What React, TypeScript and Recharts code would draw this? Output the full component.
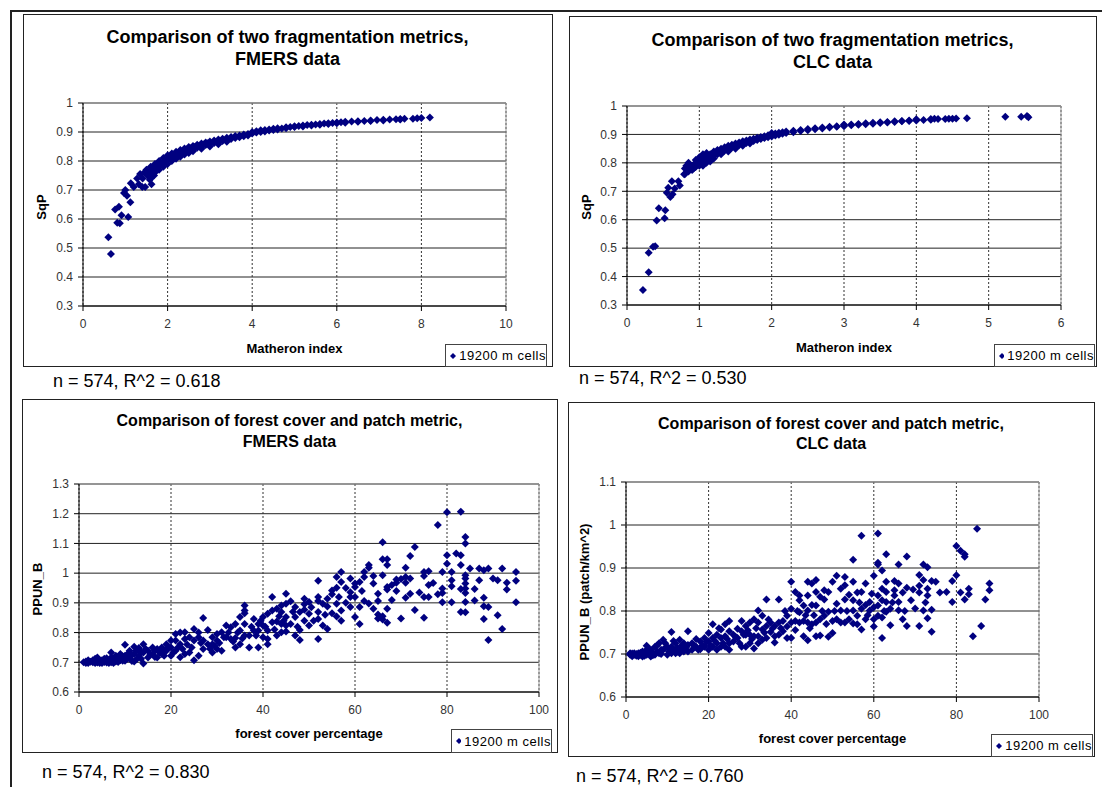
import React from 'react';
import { ScatterChart, Scatter, XAxis, YAxis, CartesianGrid, ReferenceLine, Legend } from 'recharts';

const NAVY = '#000080';
const FONT = '"Liberation Sans", Arial, Helvetica, sans-serif';
const SERIES_NAME = '19200 m cells';

// axis ticks
const matheronTicksFmers = [0, 2, 4, 6, 8, 10];
const matheronTicksClc = [0, 1, 2, 3, 4, 5, 6];
const sqpTicks = [0.3, 0.4, 0.5, 0.6, 0.7, 0.8, 0.9, 1];
const coverTicks = [0, 20, 40, 60, 80, 100];
const ppunFmersTicks = [0.6, 0.7, 0.8, 0.9, 1, 1.1, 1.2, 1.3];
const ppunClcTicks = [0.6, 0.7, 0.8, 0.9, 1, 1.1];

// Matheron index vs SqP, FMERS
const fmersMatheron: [number, number][] = [
  [0.6, 0.537], [0.66, 0.479], [0.76, 0.633], [0.85, 0.642], [0.81, 0.587], [0.87, 0.585], [0.91, 0.613],
  [0.97, 0.69], [1.0, 0.7], [1.04, 0.68], [1.07, 0.607], [1.12, 0.658], [1.13, 0.723], [1.2, 0.71],
  [1.28, 0.74], [1.32, 0.72], [1.4, 0.71], [1.41, 0.74], [1.47, 0.71], [1.52, 0.75], [1.58, 0.735],
  [1.62, 0.72], [1.66, 0.77], [1.68, 0.75], [1.35, 0.755], [1.45, 0.76],
  [1.5, 0.76], [1.5, 0.77], [1.6, 0.78], [1.6, 0.76], [1.6, 0.74], [1.7, 0.79], [1.7, 0.775], [1.7, 0.76],
  [1.75, 0.78], [1.85, 0.79], [1.95, 0.8],
  [1.8, 0.8], [1.8, 0.785], [1.8, 0.77], [1.9, 0.81], [1.9, 0.795], [1.9, 0.78],
  [2.0, 0.82], [2.0, 0.805], [2.0, 0.79], [2.1, 0.826], [2.1, 0.812], [2.1, 0.8],
  [2.05, 0.812], [2.15, 0.82], [2.25, 0.826], [2.35, 0.834], [2.45, 0.84], [2.55, 0.844], [2.65, 0.849],
  [2.75, 0.853], [2.85, 0.857], [2.95, 0.861],
  [2.2, 0.832], [2.2, 0.82], [2.2, 0.808], [2.3, 0.838], [2.3, 0.826], [2.3, 0.815],
  [2.4, 0.843], [2.4, 0.832], [2.4, 0.822], [2.5, 0.848], [2.5, 0.837], [2.5, 0.828], [2.6, 0.852], [2.6, 0.842], [2.6, 0.834],
  [2.7, 0.856], [2.7, 0.846], [2.8, 0.86], [2.8, 0.85], [2.8, 0.842], [2.9, 0.864], [2.9, 0.855], [3.0, 0.867], [3.0, 0.858], [3.0, 0.85],
  [3.1, 0.871], [3.1, 0.862], [3.2, 0.874], [3.2, 0.866], [3.2, 0.858], [3.3, 0.877], [3.3, 0.869], [3.4, 0.88], [3.4, 0.872], [3.4, 0.866],
  [3.5, 0.883], [3.5, 0.876], [3.6, 0.886], [3.6, 0.879], [3.7, 0.888], [3.7, 0.882], [3.8, 0.891], [3.8, 0.885],
  [3.9, 0.893], [3.9, 0.888], [4.0, 0.895], [4.0, 0.9], [4.1, 0.898], [4.1, 0.903], [4.2, 0.9], [4.2, 0.906],
  [4.3, 0.902], [4.3, 0.907], [4.4, 0.905], [4.4, 0.909], [4.5, 0.907], [4.5, 0.911], [4.6, 0.909], [4.6, 0.913],
  [4.7, 0.912], [4.8, 0.913], [4.8, 0.916], [4.9, 0.917], [5.0, 0.917], [5.0, 0.92], [5.1, 0.921],
  [5.2, 0.922], [5.2, 0.919], [5.3, 0.924], [5.4, 0.925], [5.4, 0.922], [5.5, 0.926], [5.6, 0.928], [5.6, 0.925],
  [5.7, 0.929], [5.8, 0.93], [5.8, 0.928], [5.9, 0.931], [6.0, 0.933], [6.0, 0.93], [6.1, 0.934],
  [6.2, 0.935], [6.2, 0.932], [6.35, 0.936], [6.5, 0.937], [6.5, 0.935], [6.65, 0.938], [6.8, 0.94], [6.8, 0.938],
  [6.95, 0.941], [7.1, 0.942], [7.1, 0.94], [7.25, 0.943], [7.4, 0.944], [7.5, 0.945], [7.5, 0.943],
  [7.6, 0.946], [7.8, 0.946], [7.9, 0.947], [8.0, 0.948], [8.2, 0.95],
];

// Matheron index vs SqP, CLC
const clcMatheron: [number, number][] = [
  [0.22, 0.353], [0.3, 0.415], [0.3, 0.484], [0.36, 0.505], [0.39, 0.507], [0.41, 0.597], [0.44, 0.64],
  [0.52, 0.605], [0.53, 0.633], [0.55, 0.695], [0.57, 0.712], [0.6, 0.68], [0.62, 0.735], [0.63, 0.69],
  [0.66, 0.71], [0.71, 0.735], [0.73, 0.72], [0.79, 0.76], [0.82, 0.79], [0.86, 0.78], [0.92, 0.78],
  [0.8, 0.76], [0.8, 0.78], [0.85, 0.77], [0.85, 0.79], [0.85, 0.8], [0.9, 0.775], [0.9, 0.79],
  [0.95, 0.785], [0.95, 0.8], [0.95, 0.81], [1.0, 0.79], [1.0, 0.8], [1.0, 0.805], [1.0, 0.82], [1.05, 0.79],
  [1.05, 0.8], [1.05, 0.815], [1.05, 0.83], [1.1, 0.8], [1.15, 0.805], [1.2, 0.815], [1.3, 0.83], [1.4, 0.84],
  [1.5, 0.85], [1.6, 0.86], [1.7, 0.868],
  [1.1, 0.81], [1.1, 0.825], [1.1, 0.835], [1.15, 0.818], [1.15, 0.83], [1.2, 0.825], [1.2, 0.84],
  [1.25, 0.83], [1.25, 0.845], [1.3, 0.837], [1.3, 0.85], [1.35, 0.843], [1.35, 0.855], [1.4, 0.848], [1.4, 0.86],
  [1.45, 0.853], [1.45, 0.864], [1.5, 0.858], [1.5, 0.868], [1.55, 0.862], [1.55, 0.872], [1.6, 0.866], [1.6, 0.876],
  [1.65, 0.87], [1.65, 0.879], [1.7, 0.874], [1.7, 0.882], [1.75, 0.877], [1.75, 0.885], [1.8, 0.88], [1.8, 0.888],
  [1.85, 0.884], [1.85, 0.891], [1.9, 0.887], [1.9, 0.894], [1.95, 0.89], [1.95, 0.897],
  [2.0, 0.893], [2.0, 0.9], [2.0, 0.905], [2.05, 0.896], [2.05, 0.903], [2.1, 0.899], [2.1, 0.906],
  [2.15, 0.902], [2.15, 0.908], [2.2, 0.905], [2.2, 0.91], [2.3, 0.908], [2.3, 0.913], [2.4, 0.912], [2.4, 0.916],
  [2.5, 0.915], [2.5, 0.919], [2.6, 0.918], [2.6, 0.922], [2.7, 0.921], [2.7, 0.924], [2.8, 0.924], [2.8, 0.927],
  [2.9, 0.927], [2.9, 0.929], [3.0, 0.929], [3.0, 0.932], [3.0, 0.935], [3.1, 0.932], [3.1, 0.935],
  [3.2, 0.934], [3.2, 0.937], [3.3, 0.936], [3.3, 0.939], [3.4, 0.938], [3.4, 0.941], [3.5, 0.94], [3.5, 0.943],
  [3.6, 0.942], [3.6, 0.944], [3.7, 0.944], [3.7, 0.946], [3.8, 0.946], [3.8, 0.947], [3.9, 0.947], [3.9, 0.949],
  [4.0, 0.949], [4.0, 0.951], [4.0, 0.953], [4.1, 0.951], [4.2, 0.952], [4.2, 0.954], [4.25, 0.955], [4.3, 0.954],
  [4.4, 0.954], [4.45, 0.955], [4.5, 0.955], [4.55, 0.956], [4.7, 0.957], [5.23, 0.962], [5.45, 0.962],
  [5.53, 0.965], [5.55, 0.96],
];

// forest cover % vs PPUN_B, FMERS
const fmersCover: [number, number][] = [
  [1, 0.7], [1.5, 0.703], [2, 0.698], [2, 0.707], [3, 0.7], [3, 0.707], [3.5, 0.712], [4, 0.699], [4, 0.716],
  [4.5, 0.705], [5, 0.698], [5, 0.707], [5.5, 0.712], [6, 0.699], [6, 0.714], [6.5, 0.706], [7, 0.7], [7, 0.716],
  [7, 0.733], [7.5, 0.71], [8, 0.703], [8, 0.722], [8.5, 0.714], [9, 0.707], [9, 0.728], [9.5, 0.72], [10, 0.705],
  [10, 0.722], [10, 0.759], [10.5, 0.713], [11, 0.716], [11, 0.739], [11.5, 0.725], [12, 0.703], [12, 0.728],
  [12, 0.752], [12.5, 0.74], [13, 0.722], [13, 0.748], [13.5, 0.735], [14, 0.696], [14, 0.733], [14, 0.761],
  [14.5, 0.745], [15, 0.716], [15, 0.739], [16, 0.728], [16, 0.75], [16.5, 0.74], [17, 0.716], [17, 0.745],
  [18, 0.728], [18, 0.75], [18.5, 0.74], [19, 0.739], [19, 0.761], [20, 0.722], [20, 0.75], [20, 0.773],
  [21, 0.739], [21, 0.773], [21, 0.795], [22, 0.717], [22, 0.761], [22, 0.8], [23, 0.728], [23, 0.778],
  [23, 0.801], [24, 0.733], [24, 0.784], [25, 0.707], [25, 0.773], [25, 0.812], [26, 0.722], [26, 0.784],
  [26, 0.8], [27, 0.745], [27, 0.773], [27, 0.849], [28, 0.761], [28, 0.809], [29, 0.733], [29, 0.761],
  [29, 0.784], [30, 0.745], [30, 0.773], [30, 0.795], [31, 0.739], [31, 0.801], [32, 0.784], [32, 0.824],
  [33, 0.778], [33, 0.818], [34, 0.75], [34, 0.782], [34, 0.829], [35, 0.761], [35, 0.807], [35, 0.852],
  [36, 0.79], [36, 0.829], [36, 0.865], [36, 0.874], [36, 0.891], [37, 0.75], [37, 0.79], [38, 0.807],
  [38, 0.846], [39, 0.75], [39, 0.807], [39, 0.829], [40, 0.784], [40, 0.824], [40, 0.852], [41, 0.761],
  [41, 0.778], [41, 0.807], [41, 0.863], [42, 0.835], [42, 0.874], [42, 0.92], [43, 0.79], [43, 0.837],
  [43, 0.88], [44, 0.801], [44, 0.829], [44, 0.869], [44, 0.891], [45, 0.804], [45, 0.824], [45, 0.852],
  [45, 0.897], [45, 0.931], [46, 0.829], [46, 0.905], [47, 0.79], [47, 0.852], [47, 0.886], [48, 0.775],
  [48, 0.809], [48, 0.869], [49, 0.84], [49, 0.877], [49, 0.895], [49, 0.914], [50, 0.824], [50, 0.863],
  [50, 0.903], [52, 0.778], [52, 0.846], [52, 0.869], [52, 0.906], [52, 0.92], [52, 0.974], [53, 0.824],
  [53, 0.897], [54, 0.812], [54, 0.888], [54, 0.914], [55, 0.865], [55, 0.929], [55, 0.942], [56, 0.854],
  [56, 0.897], [56, 0.951], [56, 0.987], [57, 0.84], [57, 0.874], [57, 0.97], [57, 1.004], [59, 0.886],
  [59, 0.92], [59, 0.936], [59, 0.982], [60, 0.852], [60, 0.92], [60, 0.953], [60, 0.965], [61, 0.829],
  [61, 0.886], [61, 0.97], [62, 0.906], [62, 0.987], [62, 1.004], [63, 0.898], [63, 1.018], [63, 1.027],
  [64, 0.88], [64, 0.965], [65, 0.847], [65, 0.861], [65, 0.906], [65, 0.931], [66, 0.844], [66, 0.855],
  [66, 0.993], [66, 1.047], [66, 1.104], [67, 0.833], [67, 0.88], [67, 0.945], [67, 0.953], [67, 1.027],
  [67, 1.047], [68, 0.91], [69, 0.94], [69, 0.968], [69, 0.979], [70, 0.847], [71, 0.917], [71, 0.968],
  [71, 0.987], [71, 1.018], [72, 0.931], [72, 0.982], [72, 1.058], [73, 0.876], [73, 1.088], [74, 0.935],
  [75, 0.85], [75, 0.92], [75, 0.99], [75, 1.004], [76, 0.92], [76, 1.006], [77, 0.967], [78, 0.929],
  [78, 1.162], [79, 0.902], [79, 0.933], [79, 0.948], [79, 1.004], [80, 1.032], [80, 1.06], [80, 1.205],
  [81, 0.902], [81, 0.956], [81, 0.976], [81, 1.004], [82, 1.066], [83, 0.869], [83, 0.947], [83, 1.027],
  [83, 1.06], [83, 1.207], [84, 0.868], [84, 0.903], [84, 0.933], [84, 0.948], [84, 0.965], [84, 0.982],
  [84, 0.993], [84, 1.1], [84, 1.122], [85, 1.016], [86, 0.947], [86, 0.908], [87, 0.976], [87, 1.016],
  [88, 0.846], [88, 0.889], [88, 0.917], [88, 1.01], [89, 0.775], [89, 0.886], [89, 1.016], [90, 0.982],
  [91, 0.858], [91, 0.976], [92, 0.812], [92, 1.016], [93, 0.945], [93, 0.968], [95, 0.902], [95, 0.974],
  [95, 1.004],
  [1.5, 0.698], [2.5, 0.702], [3.5, 0.698], [4.5, 0.698], [5.5, 0.701], [6.5, 0.698], [7.5, 0.698], [8.5, 0.701],
  [9.5, 0.705], [10.5, 0.727], [11.5, 0.704], [12.5, 0.71], [13.5, 0.712], [15.5, 0.727], [16.5, 0.718],
  [17.5, 0.733], [18.5, 0.722], [19.5, 0.75], [20.5, 0.733], [21.5, 0.75], [22.5, 0.745], [23.5, 0.76],
  [24.5, 0.75], [26.5, 0.765], [28.5, 0.745], [29.5, 0.755], [30.5, 0.765], [31.5, 0.784], [32.5, 0.8],
  [33.5, 0.77], [34.5, 0.8], [35.5, 0.78], [37.5, 0.82], [38.5, 0.79], [39.5, 0.84], [40.5, 0.82], [42.5, 0.81],
  [43.5, 0.855], [44.5, 0.84], [46.5, 0.87], [47.5, 0.82], [50.5, 0.885], [51, 0.84], [53.5, 0.86], [56.5, 0.92],
  [58, 0.95], [58, 0.9], [61.5, 0.94], [64, 0.99], [68, 0.96], [70, 0.98], [76, 0.96],
];

// forest cover % vs PPUN_B, CLC
const clcCover: [number, number][] = [
  [1, 0.698], [1, 0.702], [1.5, 0.695], [2, 0.698], [2, 0.702], [2.5, 0.7], [3, 0.695], [3, 0.702], [3.5, 0.698],
  [4, 0.694], [4, 0.706], [4.5, 0.7], [5, 0.698], [5, 0.71], [5, 0.719], [5.5, 0.703], [6, 0.694], [6, 0.71],
  [6.5, 0.702], [7, 0.698], [7, 0.717], [7.5, 0.706], [8, 0.702], [8, 0.725], [8.5, 0.71], [9, 0.71], [9, 0.733],
  [9.5, 0.714], [10, 0.698], [10, 0.717], [10.5, 0.706], [11, 0.702], [11, 0.717], [11, 0.751], [11.5, 0.71],
  [12, 0.702], [12, 0.725], [12.5, 0.714], [13, 0.702], [13, 0.713], [13, 0.733], [13.5, 0.72], [14, 0.706],
  [14, 0.725], [15, 0.706], [15, 0.721], [15, 0.753], [16, 0.71], [16, 0.725], [17, 0.717], [17, 0.735],
  [18, 0.711], [18, 0.729], [19, 0.717], [19, 0.737], [20, 0.71], [20, 0.729], [20, 0.749], [21, 0.717],
  [21, 0.737], [21, 0.769], [22, 0.71], [22, 0.725], [22, 0.745], [23, 0.717], [23, 0.737], [23, 0.757],
  [24, 0.717], [24, 0.741], [24, 0.769], [25, 0.71], [25, 0.725], [25, 0.753], [25, 0.777], [26, 0.729],
  [26, 0.745], [27, 0.737], [27, 0.759], [28, 0.717], [28, 0.753], [28, 0.777], [29, 0.717], [29, 0.745],
  [29, 0.765], [30, 0.725], [30, 0.745], [30, 0.773], [31, 0.713], [31, 0.741], [31, 0.781], [32, 0.725],
  [32, 0.741], [32, 0.773], [32, 0.801], [33, 0.733], [33, 0.757], [33, 0.789], [34, 0.737], [34, 0.765],
  [34, 0.827], [35, 0.751], [35, 0.773], [36, 0.727], [36, 0.741], [36, 0.765], [37, 0.745], [37, 0.773],
  [37, 0.827], [38, 0.753], [38, 0.777], [39, 0.737], [39, 0.764], [39, 0.789], [40, 0.737], [40, 0.773],
  [40, 0.805], [40, 0.868], [41, 0.756], [41, 0.777], [41, 0.844], [42, 0.773], [42, 0.797], [42, 0.825],
  [42, 0.836], [43, 0.741], [43, 0.777], [43, 0.813], [44, 0.732], [44, 0.773], [44, 0.801], [44, 0.836],
  [44, 0.868], [45, 0.769], [45, 0.814], [45, 0.864], [46, 0.741], [46, 0.773], [46, 0.813], [46, 0.844],
  [46, 0.872], [47, 0.743], [47, 0.781], [47, 0.833], [48, 0.789], [48, 0.827], [48, 0.848], [49, 0.74],
  [49, 0.798], [49, 0.844], [50, 0.749], [50, 0.777], [50, 0.868], [51, 0.781], [51, 0.817], [51, 0.882],
  [52, 0.773], [52, 0.801], [52, 0.852], [53, 0.773], [53, 0.827], [53, 0.86], [53, 0.879], [54, 0.781],
  [54, 0.838], [55, 0.771], [55, 0.801], [55, 0.825], [55, 0.868], [55, 0.919], [56, 0.769], [56, 0.789],
  [56, 0.843], [57, 0.757], [57, 0.805], [57, 0.844], [57, 0.975], [58, 0.781], [58, 0.814], [58, 0.864],
  [59, 0.801], [59, 0.821], [60, 0.764], [60, 0.781], [60, 0.809], [60, 0.882], [61, 0.789], [61, 0.813],
  [61, 0.836], [61, 0.908], [61, 0.912], [61, 0.98], [62, 0.737], [62, 0.785], [62, 0.825], [62, 0.852],
  [62, 0.894], [63, 0.798], [63, 0.821], [63, 0.844], [63, 0.868], [63, 0.932], [64, 0.767], [64, 0.805],
  [65, 0.836], [65, 0.848], [65, 0.87], [66, 0.802], [66, 0.821], [66, 0.864], [66, 0.908], [67, 0.781],
  [67, 0.843], [68, 0.765], [68, 0.854], [68, 0.927], [69, 0.825], [70, 0.806], [71, 0.765], [71, 0.843],
  [71, 0.859], [71, 0.884], [72, 0.801], [72, 0.872], [72, 0.908], [73, 0.783], [73, 0.836], [73, 0.852],
  [73, 0.902], [74, 0.752], [74, 0.803], [74, 0.87], [75, 0.868], [76, 0.843], [77.6, 0.844], [79, 0.821],
  [79, 0.87], [80, 0.883], [80, 0.951], [81, 0.843], [81, 0.94], [82, 0.827], [82, 0.926], [82, 0.932],
  [83, 0.839], [83, 0.852], [84, 0.741], [85, 0.991], [86, 0.765], [87, 0.827], [88, 0.848], [88, 0.864],
  [1.5, 0.701], [2.5, 0.696], [3.5, 0.703], [4.5, 0.696], [5.5, 0.712], [6.5, 0.697], [7.5, 0.72], [8.5, 0.7],
  [9.5, 0.725], [10.5, 0.712], [11.5, 0.73], [12.5, 0.705], [13.5, 0.708], [14.5, 0.715], [16.5, 0.72],
  [17.5, 0.71], [18.5, 0.72], [19.5, 0.728], [20.5, 0.72], [21.5, 0.73], [22.5, 0.76], [23.5, 0.725],
  [24.5, 0.735], [26.5, 0.74], [27.5, 0.725], [28.5, 0.745], [29.5, 0.755], [30.5, 0.735], [31.5, 0.76],
  [33.5, 0.75], [34.5, 0.78], [35.5, 0.76], [37.5, 0.76], [38.5, 0.8], [41.5, 0.8], [43.5, 0.79], [44.5, 0.76],
  [45.5, 0.79], [47.5, 0.8], [48.5, 0.77], [50.5, 0.8], [53.5, 0.8], [56.5, 0.82], [58.5, 0.79], [59.5, 0.84],
  [62.5, 0.8], [64.5, 0.82], [67.5, 0.8], [69.5, 0.85], [72.5, 0.82],
];

const Diamond = (props: any) => {
  const { cx, cy } = props;
  if (cx == null || cy == null) return null;
  const r = 4;
  return <path d={`M${cx},${cy - r}L${cx + r},${cy}L${cx},${cy + r}L${cx - r},${cy}Z`} fill={NAVY} />;
};

const LegendBox = () => (
  <div style={{ display: 'flex', alignItems: 'center', height: '100%', paddingLeft: 3, fontFamily: FONT, fontSize: 13, letterSpacing: 0.5, color: '#000', whiteSpace: 'nowrap' }}>
    <svg width={8} height={8} style={{ display: 'block' }}>
      <path d="M4,1L7,4L4,7L1,4Z" fill={NAVY} />
    </svg>
    <span style={{ marginLeft: 3 }}>{SERIES_NAME}</span>
  </div>
);

const tickStyle = { fill: '#333', fontSize: 12, fontFamily: FONT };

const panels = [
  {
    box: { left: 23, top: 14, width: 530, height: 353 },
    margin: { top: 89, right: 47, bottom: 31, left: 10 },
    points: fmersMatheron, xTicks: matheronTicksFmers, yTicks: sqpTicks,
    legend: { left: 422, top: 330, width: 102, height: 23 },
  },
  {
    box: { left: 569, top: 16, width: 528, height: 351 },
    margin: { top: 90, right: 36, bottom: 32, left: 8 },
    points: clcMatheron, xTicks: matheronTicksClc, yTicks: sqpTicks,
    legend: { left: 425, top: 328, width: 101, height: 23 },
  },
  {
    box: { left: 22, top: 399, width: 536, height: 354 },
    margin: { top: 85, right: 19, bottom: 31, left: 7 },
    points: fmersCover, xTicks: coverTicks, yTicks: ppunFmersTicks,
    legend: { left: 429, top: 330, width: 101, height: 24 },
  },
  {
    box: { left: 568, top: 402, width: 527, height: 355 },
    margin: { top: 80, right: 56, bottom: 30, left: 8 },
    points: clcCover, xTicks: coverTicks, yTicks: ppunClcTicks,
    legend: { left: 423, top: 332, width: 102, height: 23 },
  },
];

const Panel = ({ box, margin, points, xTicks, yTicks, legend }: any) => {
  const data = points.map(([x, y]: [number, number]) => ({ x, y }));
  const xMin = xTicks[0];
  const xMax = xTicks[xTicks.length - 1];
  const yMin = yTicks[0];
  const yMax = yTicks[yTicks.length - 1];
  return (
    <div style={{ position: 'absolute', left: box.left, top: box.top, width: box.width, height: box.height }}>
      <div style={{ position: 'absolute', left: 0, top: 0, width: box.width, height: box.height, border: '1px solid #222', boxSizing: 'border-box' }} />
      <ScatterChart width={box.width} height={box.height} margin={margin}>
        <CartesianGrid horizontal vertical={false} stroke="#222" />
        <CartesianGrid horizontal={false} vertical stroke="#333" strokeDasharray="2 2" />
        <ReferenceLine y={yMax} stroke="#999" />
        <ReferenceLine x={xMax} stroke="#999" />
        <XAxis type="number" dataKey="x" domain={[xMin, xMax]} ticks={xTicks} interval={0} height={30}
          tickSize={5} tickMargin={8} stroke="#000" tick={tickStyle} allowDataOverflow />
        <YAxis type="number" dataKey="y" domain={[yMin, yMax]} ticks={yTicks} interval={0} width={50}
          tickSize={5} tickMargin={5} stroke="#000" tick={tickStyle} allowDataOverflow />
        <Scatter name={SERIES_NAME} data={data} fill={NAVY} shape={Diamond} legendType="diamond" isAnimationActive={false} />
        <Legend layout="horizontal" verticalAlign="middle" align="center" content={LegendBox}
          wrapperStyle={{ left: legend.left, top: legend.top, width: legend.width, height: legend.height, border: '1px solid #444', background: '#fff', boxSizing: 'border-box' }} />
      </ScatterChart>
    </div>
  );
};

const titles = [
  { x: 287.5, y1: 43, y2: 65, size: 18, l1: 'Comparison of two fragmentation metrics,', l2: 'FMERS data' },
  { x: 832.5, y1: 46, y2: 68, size: 18, l1: 'Comparison of two fragmentation metrics,', l2: 'CLC data' },
  { x: 289.5, y1: 426, y2: 447, size: 16, l1: 'Comparison of forest cover and patch metric,', l2: 'FMERS data' },
  { x: 831, y1: 429, y2: 449, size: 16, l1: 'Comparison of forest cover and patch metric,', l2: 'CLC data' },
];

const xLabels = [
  { x: 294.5, y: 352.5, text: 'Matheron index' },
  { x: 844, y: 351.5, text: 'Matheron index' },
  { x: 309, y: 737.5, text: 'forest cover percentage' },
  { x: 832.5, y: 742.5, text: 'forest cover percentage' },
];

const yLabels = [
  { x: 41, y: 207, text: 'SqP' },
  { x: 586, y: 207, text: 'SqP' },
  { x: 37.5, y: 589, text: 'PPUN_B' },
  { x: 584, y: 592, text: 'PPUN_B (patch/km^2)' },
];

const stats = [
  { x: 53, y: 387, text: 'n = 574, R^2 = 0.618' },
  { x: 579, y: 384, text: 'n = 574, R^2 = 0.530' },
  { x: 42, y: 778, text: 'n = 574, R^2 = 0.830' },
  { x: 576, y: 782, text: 'n = 574, R^2 = 0.760' },
];

export default function App() {
  return (
    <div style={{ position: 'absolute', left: 0, top: 0, width: 1102, height: 787, background: '#fff', overflow: 'hidden' }}>
      <div style={{ position: 'absolute', left: 10, top: 10, width: 1092, height: 2, background: '#222' }} />
      <div style={{ position: 'absolute', left: 10, top: 10, width: 2, height: 777, background: '#222' }} />
      {panels.map((p, i) => <Panel key={i} {...p} />)}
      <svg width={1102} height={787} style={{ position: 'absolute', left: 0, top: 0, pointerEvents: 'none' }}>
        {titles.map((t, i) => (
          <g key={i} fontFamily={FONT} fontWeight="bold" fontSize={t.size} fill="#000" textAnchor="middle">
            <text x={t.x} y={t.y1}>{t.l1}</text>
            <text x={t.x} y={t.y2}>{t.l2}</text>
          </g>
        ))}
        {xLabels.map((l, i) => (
          <text key={i} x={l.x} y={l.y} fontFamily={FONT} fontWeight="bold" fontSize={13} textAnchor="middle" fill="#000">{l.text}</text>
        ))}
        {yLabels.map((l, i) => (
          <text key={i} x={l.x} y={l.y} fontFamily={FONT} fontWeight="bold" fontSize={13} textAnchor="middle"
            dominantBaseline="central" transform={`rotate(-90 ${l.x} ${l.y})`} fill="#000">{l.text}</text>
        ))}
        {stats.map((s, i) => (
          <text key={i} x={s.x} y={s.y} fontFamily={FONT} fontSize={18} fill="#000">{s.text}</text>
        ))}
      </svg>
    </div>
  );
}
